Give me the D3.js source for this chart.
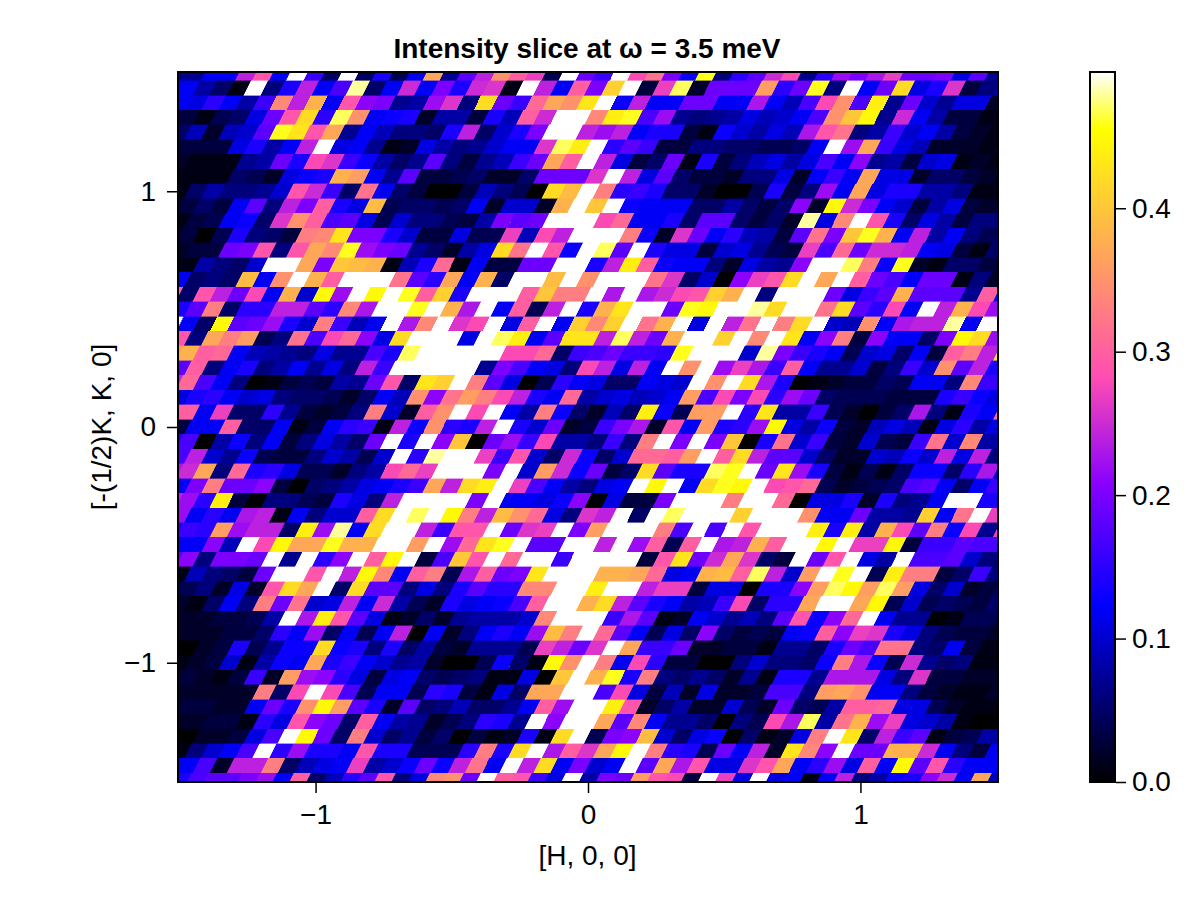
<!DOCTYPE html>
<html>
<head>
<meta charset="utf-8">
<script src="https://cdn.jsdelivr.net/npm/d3@7/dist/d3.min.js"></script>
<style>
  html, body { margin: 0; padding: 0; background: #fff; }
  svg { display: block; }
  text { font-family: "Liberation Sans", Arial, sans-serif; fill: #000; }
</style>
</head>
<body>
<svg id="chart" width="1200" height="900"></svg>
<script>
// Intensity per lattice cell in units of 0.01, top row (K = 1.5) first.
// Every row runs left to right; odd rows sit half a cell to the right of even rows.
const intensityRows = [
[7,7,12,12,24,29,12,50,16,5,50,5,14,4,12,37,7,18,24,35,30,27,4,50,19,16,50,28,32,20,13,46,6,15,18,25,28,7,15,22,20,23,27,19,19,20,11,18,7],
[12,8,5,1,50,6,14,24,12,17,48,5,12,25,12,20,14,25,26,1,50,24,12,30,20,41,50,3,27,47,2,19,19,19,36,15,19,46,6,50,12,19,42,11,14,26,3,6,8],
[12,11,15,12,8,16,34,24,38,12,29,21,20,7,8,22,26,6,42,19,16,31,37,35,43,50,13,24,12,12,19,19,12,12,23,12,9,17,28,35,17,44,7,19,10,7,11,11,2],
[3,1,4,5,11,19,29,42,15,47,35,12,13,14,2,8,8,3,14,9,30,25,50,50,34,44,46,17,22,7,6,7,8,11,9,10,12,17,35,40,45,7,25,12,8,3,3,1,1],
[5,9,2,9,10,18,46,43,29,37,7,12,9,6,6,5,14,24,5,10,14,20,50,50,24,22,24,12,14,14,3,1,13,10,8,11,9,23,29,32,6,8,16,10,12,8,3,2,1],
[3,3,3,11,14,8,12,24,50,11,12,7,1,2,11,8,6,7,10,12,12,26,47,44,50,15,18,16,3,3,6,6,5,5,4,4,5,12,50,22,37,16,11,9,2,2,2,1,2],
[2,1,1,1,7,8,19,14,28,26,16,13,8,5,7,18,6,3,7,9,16,19,37,30,50,24,11,3,5,19,1,14,3,6,9,11,8,11,17,12,21,7,8,3,10,11,1,2,1],
[1,1,1,5,4,2,11,13,14,38,36,12,7,18,3,3,4,5,2,2,5,19,19,19,26,50,24,11,18,5,3,3,2,6,6,11,2,12,16,12,37,11,11,2,5,5,3,2,1],
[1,5,8,6,6,7,10,29,25,16,5,32,12,5,3,0,0,3,9,6,4,0,42,39,50,33,15,16,14,5,5,2,0,0,4,14,3,6,22,12,37,11,14,14,8,8,6,1,1],
[3,5,3,12,18,6,24,20,30,14,11,39,4,5,5,4,5,12,2,10,10,2,38,50,40,50,13,12,12,12,5,5,8,5,3,5,21,2,45,25,20,12,10,3,8,11,3,2,3],
[1,3,4,12,13,5,26,35,30,17,18,11,4,10,6,6,4,3,8,20,18,19,50,50,50,28,31,12,12,14,5,18,18,5,3,5,2,48,11,34,50,29,14,5,11,8,3,6,6],
[3,0,4,14,6,5,3,33,34,43,20,20,14,10,3,3,11,4,4,27,9,28,24,50,50,50,33,13,2,26,19,12,15,9,8,3,18,32,20,40,46,38,12,24,8,12,6,4,5],
[2,3,3,19,20,29,6,29,37,34,46,22,20,19,7,5,2,8,11,42,32,50,29,13,50,47,18,50,14,11,11,3,10,11,7,4,3,27,17,31,19,25,25,24,12,11,3,1,5],
[1,8,6,5,10,50,50,37,20,40,39,38,1,9,14,31,1,12,3,3,19,19,50,50,14,24,44,30,13,12,12,6,2,11,8,7,21,50,50,47,33,13,46,2,1,5,5,3,2],
[12,5,6,5,39,12,35,50,38,30,50,50,50,32,18,15,37,12,38,5,50,50,39,50,35,50,50,50,32,26,5,10,0,21,27,29,42,50,37,50,30,19,17,12,19,19,1,6,2],
[5,29,24,19,28,12,38,10,45,22,50,45,50,46,30,41,14,50,50,50,30,40,33,33,50,23,50,23,25,28,29,41,38,50,6,50,50,50,19,11,16,18,38,18,18,18,7,30,12],
[14,18,33,5,15,15,24,24,18,15,34,23,50,50,46,50,38,23,50,12,30,4,24,50,14,38,43,50,50,19,46,45,50,50,48,42,50,50,32,42,18,15,28,12,50,24,38,28,22],
[12,5,45,18,19,22,14,10,33,16,9,12,50,23,34,50,26,28,50,11,30,50,12,41,34,41,50,32,38,50,11,50,24,32,50,33,42,50,10,9,35,12,23,24,24,48,12,50,50],
[29,6,37,33,36,4,6,32,17,28,31,21,11,42,50,50,50,11,50,47,44,12,18,43,43,24,47,24,19,38,50,50,41,50,34,50,43,12,21,33,3,21,12,12,5,20,45,42,22],
[38,30,31,12,9,8,7,6,11,7,7,17,14,47,50,50,50,50,50,28,28,31,5,16,17,19,16,16,15,46,50,50,50,10,48,20,16,14,12,4,10,11,5,12,3,30,33,24,43],
[18,30,6,12,14,6,8,12,7,11,6,24,16,50,50,50,50,50,7,20,17,12,11,6,28,24,11,24,12,50,35,50,22,27,23,16,30,12,7,7,10,3,6,16,10,35,18,24,14],
[31,17,12,6,0,1,3,4,3,8,7,19,29,5,43,41,50,33,18,11,0,4,15,12,11,5,5,12,11,10,50,35,50,42,23,14,0,1,2,3,3,5,4,12,12,6,34,16,16],
[11,14,15,12,10,11,6,5,5,4,2,5,12,9,35,21,32,36,33,28,24,14,12,31,8,10,11,9,10,12,36,17,28,20,28,15,22,19,5,4,4,4,3,3,3,14,16,13,11],
[30,12,27,5,5,15,7,3,2,3,6,33,10,2,30,35,50,28,50,12,8,33,13,5,2,9,5,44,13,4,36,36,50,15,43,8,8,16,4,2,0,3,5,23,6,1,14,12,30],
[3,12,12,30,5,5,12,1,3,12,15,16,1,24,13,35,15,14,24,50,14,10,19,2,3,16,20,23,2,29,12,36,14,15,22,45,11,8,13,3,2,9,11,9,1,11,15,8,11],
[17,0,8,13,6,12,3,6,11,8,5,19,50,14,50,21,40,0,19,22,16,28,8,8,6,16,6,33,50,20,50,20,40,0,14,32,10,16,3,2,10,4,3,16,32,10,34,8,8],
[17,24,10,7,13,4,3,3,6,10,8,4,10,50,15,48,50,50,27,16,29,10,5,25,13,5,10,31,31,30,36,50,30,42,24,18,18,10,5,2,2,10,9,13,10,24,11,24,6],
[25,37,6,31,14,15,11,4,4,2,6,8,28,31,27,50,50,50,20,50,10,36,25,13,19,3,5,42,18,14,14,47,46,50,19,43,22,14,3,1,4,1,5,13,13,5,15,23,10],
[12,20,33,19,19,21,3,0,5,6,8,11,12,14,16,37,24,42,44,50,27,17,12,8,6,11,12,50,45,50,12,42,46,45,50,28,29,31,4,2,3,4,5,17,18,12,5,12,16],
[22,15,44,3,0,6,6,4,3,14,11,6,24,50,50,50,50,20,50,12,12,11,13,21,0,11,3,3,20,50,50,50,33,50,50,31,0,11,11,14,2,14,6,7,12,50,50,14,14],
[22,12,15,12,23,24,1,12,6,10,10,30,42,50,47,50,45,33,24,39,35,31,11,6,26,24,50,5,50,47,50,50,50,41,50,50,50,35,12,12,19,8,8,7,41,12,32,50,27],
[16,15,36,22,24,24,5,44,22,48,12,42,50,50,24,16,29,29,50,19,26,27,50,20,36,50,50,50,33,17,50,17,50,29,50,50,50,44,14,44,8,38,28,18,33,13,28,7,27],
[12,12,21,9,50,28,45,37,37,46,38,38,50,50,36,50,22,31,43,46,50,18,18,50,50,24,50,22,30,4,30,50,23,24,38,30,50,50,45,50,27,27,45,3,16,16,18,17,17],
[21,6,20,20,19,50,7,50,15,21,50,30,45,50,3,17,40,29,50,31,50,50,16,50,50,50,50,3,29,43,19,25,37,26,5,3,50,19,29,50,11,8,50,17,17,18,10,6,5],
[1,9,6,5,3,19,50,50,29,50,24,45,34,12,30,33,4,23,30,19,20,43,50,50,50,38,38,37,31,11,12,38,39,30,47,24,10,36,50,46,50,4,44,33,33,3,5,16,6],
[4,6,2,11,2,29,42,37,50,5,42,18,18,6,11,6,14,18,15,15,34,34,50,50,44,50,50,24,27,27,3,11,11,0,14,14,21,36,47,45,36,47,36,11,5,10,2,3,5],
[2,1,5,12,6,33,19,32,10,11,24,12,25,8,4,2,14,11,12,13,17,30,50,50,38,42,24,18,14,12,8,9,16,28,5,15,15,37,50,50,37,45,4,10,4,5,4,3,5],
[2,2,3,3,4,8,50,23,44,29,18,11,1,2,5,2,7,8,8,8,10,34,50,50,50,16,23,18,1,2,12,10,7,9,6,18,29,13,21,31,50,12,7,7,0,1,4,4,3],
[2,2,2,3,3,5,15,12,22,5,12,4,12,24,0,12,2,6,12,14,12,22,39,33,50,31,18,12,4,11,5,21,5,3,4,3,12,13,30,21,27,26,14,11,6,4,3,3,2],
[0,2,3,14,4,7,13,13,42,13,14,6,14,5,8,3,2,7,7,7,4,27,24,19,26,50,37,16,16,19,2,2,3,3,1,7,7,5,14,19,17,32,32,6,5,12,3,1,1],
[1,2,3,10,1,8,13,12,37,14,16,12,10,7,8,2,0,0,4,13,5,1,45,35,50,33,12,28,15,3,3,0,0,6,10,6,6,5,13,33,23,13,4,25,7,5,6,1,1],
[3,2,1,3,16,2,36,22,21,15,11,3,11,12,5,4,5,6,1,1,11,0,40,50,38,46,14,33,6,5,7,5,2,7,1,14,14,7,23,23,23,11,6,26,3,3,2,2,2],
[2,2,2,2,2,33,5,28,50,28,17,4,12,12,4,15,14,3,1,11,5,37,37,50,50,17,28,11,3,9,2,11,2,2,3,17,17,6,36,37,35,12,12,6,3,2,1,1,2],
[3,3,2,2,12,19,14,35,45,36,18,14,2,18,5,6,9,5,5,7,12,30,22,50,50,44,29,2,5,8,2,2,10,4,2,19,5,4,8,30,30,31,11,11,4,2,1,1,1],
[2,2,3,3,1,15,11,29,21,19,5,30,12,8,7,2,4,6,15,14,7,50,21,50,50,37,18,34,12,7,7,5,0,6,4,28,23,47,8,32,38,22,27,11,10,8,1,0,0],
[0,2,2,3,11,17,50,45,19,5,33,10,5,7,3,5,0,3,1,2,14,1,42,50,4,20,21,39,10,5,11,13,0,5,1,2,11,33,50,43,5,24,16,18,1,3,4,8,8],
[1,6,10,12,17,50,15,22,14,14,12,29,14,14,4,4,4,15,33,14,42,50,23,30,26,37,45,50,33,15,14,4,19,12,24,2,43,34,21,50,19,19,38,38,25,12,6,3,12],
[12,17,2,24,24,33,5,9,11,12,27,8,10,13,19,13,24,32,12,50,24,42,12,20,10,12,50,18,37,23,29,11,11,26,29,37,12,15,22,11,30,12,45,18,29,15,12,12,12],
[14,17,18,18,20,22,12,30,5,9,15,18,29,6,11,34,35,19,50,30,29,16,11,50,8,20,19,36,29,28,3,50,27,11,50,11,12,1,12,24,6,8,13,14,21,25,12,37,9]
];

// Cells poking in at the left edge on the odd rows, top to bottom, same units.
const leftEdgeCells = [12,3,3,1,2,2,1,30,50,36,24,30,14,23,24,14,18,4,2,0,2,2,0,12];

const axisTicksH = [-1, 0, 1];
const axisTicksK = [-1, 0, 1];
const colorTicks = [0, 0.1, 0.2, 0.3, 0.4];
const colorLimit = 0.495;

const titleText = "Intensity slice at \u03C9 = 3.5 meV";
const xLabelText = "[H, 0, 0]";
const yLabelText = "[-(1/2)K, K, 0]";

const frame = { left: 178, right: 998, top: 72, bottom: 782 };
const bar = { left: 1090, right: 1115 };
const step = 0.0625;       // lattice spacing along both H and K
const LIMIT_X = 1.505, LIMIT_Y = 1.506;

const x = d3.scaleLinear().domain([-LIMIT_X, LIMIT_X]).range([frame.left, frame.right]);
const y = d3.scaleLinear().domain([-LIMIT_Y, LIMIT_Y]).range([frame.bottom, frame.top]);
const level = d3.scaleLinear().domain([0, colorLimit]).range([frame.bottom, frame.top]);

// gnuplot2 colormap, value normalised to 0..1
const gnuplot2 = t => {
  const clip = v => Math.round(255 * Math.max(0, Math.min(1, v)));
  const r = t / 0.32 - 0.78125;
  const g = 2 * t - 0.84;
  const b = t < 0.25 ? 4 * t : t < 0.92 ? -2 * t + 1.84 : t / 0.08 - 11.5;
  return `rgb(${clip(r)},${clip(g)},${clip(b)})`;
};
const color = d3.scaleSequential(gnuplot2).domain([0, colorLimit]).clamp(true);

const svg = d3.select("#chart");

// Flatten the rows into sheared cells: each row is staggered half a cell from the
// next, and the cell edges lean a little less than that, leaving a small jog at each row.
const cells = [];
intensityRows.forEach((row, r) => {
  const K = 1.5 - r * step;
  const odd = r % 2 === 1;
  const start = odd ? -1.5 + step / 2 : -1.5;
  row.forEach((v, i) => cells.push({ K, H: start + i * step, value: v / 100 }));
  if (odd) cells.push({ K, H: start - step, value: leftEdgeCells[(r - 1) / 2] / 100 });
});

const corners = d => {
  const top = d.K + step / 2, bot = d.K - step / 2;
  const lean = step / 4 * 0.86, half = step / 2;
  return [
    [x(d.H - half + lean), y(top)],
    [x(d.H + half + lean), y(top)],
    [x(d.H + half - lean), y(bot)],
    [x(d.H - half - lean), y(bot)]
  ].join(" ");
};

svg.append("clipPath").attr("id", "plot-area").append("rect")
  .attr("x", frame.left).attr("y", frame.top)
  .attr("width", frame.right - frame.left).attr("height", frame.bottom - frame.top);

// A hairline of each cell's own colour closes the pinholes where four corners meet.
svg.append("g").attr("clip-path", "url(#plot-area)")
  .attr("shape-rendering", "crispEdges")
  .selectAll("polygon").data(cells).join("polygon")
  .attr("points", corners)
  .attr("fill", d => color(d.value))
  .attr("stroke", d => color(d.value))
  .attr("stroke-width", 0.4);

// Plot frame with outward ticks
const axisColor = "#000";
const axes = svg.append("g");
axes.append("rect")
  .attr("x", frame.left).attr("y", frame.top)
  .attr("width", frame.right - frame.left).attr("height", frame.bottom - frame.top)
  .attr("fill", "none").attr("stroke", axisColor).attr("stroke-width", 2);

const fmtSigned = v => String(v).replace("-", "\u2212");

const xAxis = d3.axisBottom(x).tickValues(axisTicksH).tickSize(10).tickPadding(11).tickFormat(fmtSigned);
const yAxis = d3.axisLeft(y).tickValues(axisTicksK).tickSize(10).tickPadding(11).tickFormat(fmtSigned);
const barAxis = d3.axisRight(level).tickValues(colorTicks).tickSize(10).tickPadding(6).tickFormat(d3.format(".1f"));

const styleAxis = g => {
  g.select(".domain").remove();
  g.selectAll(".tick line").attr("stroke", axisColor).attr("stroke-width", 1.5);
  g.selectAll(".tick text").attr("fill", "#000").style("font-size", "28px");
};

axes.append("g").attr("transform", `translate(0,${frame.bottom + 1})`).call(xAxis).call(styleAxis);
axes.append("g").attr("transform", `translate(${frame.left - 1},0)`).call(yAxis).call(styleAxis);

// Colour bar: one thin band per pixel row, fed through the value scale
const barBands = d3.range(0, colorLimit, colorLimit / 710);
svg.append("g").attr("shape-rendering", "crispEdges")
  .selectAll("rect").data(barBands).join("rect")
  .attr("x", bar.left).attr("width", bar.right - bar.left)
  .attr("y", d => level(d) - 1.5).attr("height", 2)
  .attr("fill", d => color(d));

svg.append("rect")
  .attr("x", bar.left).attr("y", frame.top)
  .attr("width", bar.right - bar.left).attr("height", frame.bottom - frame.top)
  .attr("fill", "none").attr("stroke", axisColor).attr("stroke-width", 2);
svg.append("g").attr("transform", `translate(${bar.right + 1},0)`).call(barAxis).call(styleAxis);

// Titles
svg.append("text").attr("x", 587).attr("y", 58).attr("text-anchor", "middle")
  .style("font-size", "28px").style("font-weight", "bold").text(titleText);
svg.append("text").attr("x", 587.5).attr("y", 865).attr("text-anchor", "middle")
  .style("font-size", "28px").text(xLabelText);
svg.append("text").attr("transform", "translate(111,427) rotate(-90)").attr("text-anchor", "middle")
  .style("font-size", "28px").text(yLabelText);
</script>
</body>
</html>
